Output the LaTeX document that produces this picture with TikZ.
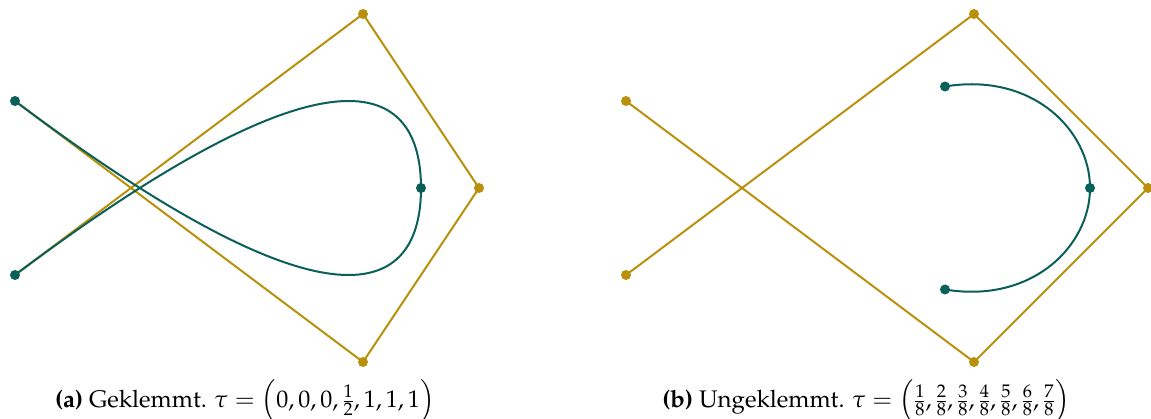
\documentclass[tikz,border=0pt]{standalone}
\usepackage[T1]{fontenc}
\usepackage{mathpazo}
\definecolor{ctrlgold}{RGB}{184,144,10}
\definecolor{curveteal}{RGB}{10,96,88}
\tikzset{
  polyline/.style={draw=ctrlgold, line width=2pt, line join=round},
  curveline/.style={draw=curveteal, line width=2pt},
  golddot/.style={circle, fill=ctrlgold, inner sep=0pt, minimum size=10pt},
  tealdot/.style={circle, fill=curveteal, inner sep=0pt, minimum size=10pt},
  captext/.style={anchor=base, inner sep=0pt, font=\fontsize{24}{29}\selectfont}
}
\begin{document}
\begin{tikzpicture}[x=1pt,y=-1pt]
\useasboundingbox (0,0) rectangle (1151,419);
% ---------- (a) clamped ----------
\coordinate (a0) at (15,101);
\coordinate (a1) at (363,362);
\coordinate (a2) at (479,188);
\coordinate (a3) at (363,14);
\coordinate (a4) at (15,275);
\coordinate (as) at (421,188);
\draw[polyline] (a0) -- (a1) -- (a2) -- (a3) -- (a4);
\foreach \p in {a1,a2,a3}{\node[golddot] (g\p) at (\p) {};}
\draw[curveline] (a0) .. controls (a1) and (421,275) .. (as)
                       .. controls (421,101) and (a3) .. (a4);
\node[tealdot] (ta0) at (a0) {};
\node[tealdot] (tas) at (as) {};
\node[tealdot] (ta4) at (a4) {};
\node[captext] (capa) at (245,407) {\textbf{(a)} Geklemmt. $\tau=\left(0,0,0,\frac{1}{2},1,1,1\right)$};
% ---------- (b) unclamped ----------
\coordinate (b0) at (626,101);
\coordinate (b1) at (974,362);
\coordinate (b2) at (1148,188);
\coordinate (b3) at (974,14);
\coordinate (b4) at (626,275);
\coordinate (bs) at (945,289.5);
\coordinate (bm) at (1090,188);
\coordinate (be) at (945,86.5);
\draw[polyline] (b0) -- (b1) -- (b2) -- (b3) -- (b4);
\foreach \p in {b0,b1,b2,b3,b4}{\node[golddot] (g\p) at (\p) {};}
\draw[curveline] (bs) .. controls (1032,304) and (1090,246) .. (bm)
                      .. controls (1090,130) and (1032,72) .. (be);
\node[tealdot] (tbs) at (bs) {};
\node[tealdot] (tbm) at (bm) {};
\node[tealdot] (tbe) at (be) {};
\node[captext] (capb) at (866,407) {\textbf{(b)} Ungeklemmt. $\tau=\left(\frac{1}{8},\frac{2}{8},\frac{3}{8},\frac{4}{8},\frac{5}{8},\frac{6}{8},\frac{7}{8}\right)$};
\end{tikzpicture}
\end{document}
